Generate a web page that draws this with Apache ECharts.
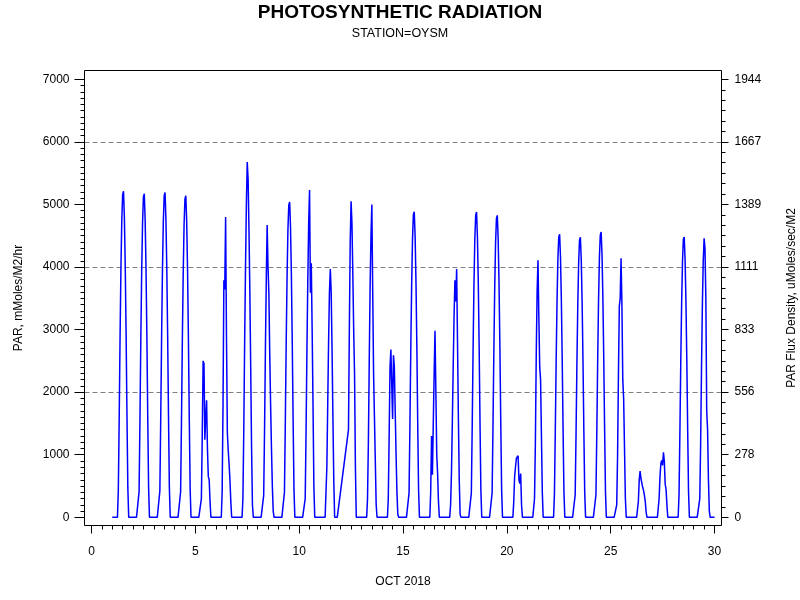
<!DOCTYPE html>
<html>
<head>
<meta charset="utf-8">
<script src="https://cdn.jsdelivr.net/npm/echarts@6/dist/echarts.min.js"></script>
<style>html,body{margin:0;padding:0;background:#fff}#chart{width:800px;height:600px}</style>
</head>
<body>
<div id="chart"></div>
<script>
// Hourly PAR values (mMoles/M2/hr), hours 0..23, October 2018, station OYSM
const oct01 = [0,0,0,0,0,0,0,420,1560,2870,3960,4740,5160,5210,4790,4010,2920,1620,470,0,0,0,0,0];
const oct02 = [0,0,0,0,0,0,0,410,1550,2840,3930,4700,5120,5170,4760,3980,2900,1600,470,0,0,0,0,0];
const oct03 = [0,0,0,0,0,0,0,420,1560,2850,3940,4720,5140,5190,4770,4000,2910,1610,470,0,0,0,0,0];
const oct04 = [0,0,0,0,0,0,0,410,1540,2830,3910,4680,5090,5140,4730,3960,2880,1590,460,0,0,0,0,0];
const oct05 = [0,0,0,0,0,0,0,300,1300,2500,2460,1240,1600,1870,1100,650,600,250,0,0,0,0,0,0];
const oct06 = [0,0,0,0,0,0,0,400,1800,3790,3640,4800,2900,1350,1080,850,600,250,0,0,0,0,0,0];
const oct07 = [0,0,0,0,0,0,0,300,1400,2800,4000,5000,5680,5400,4600,3600,2400,1100,200,0,0,0,0,0];
const oct08 = [0,0,0,0,0,0,0,350,1400,2700,3800,4670,4000,3580,2600,1800,1100,500,100,0,0,0,0,0];
const oct09 = [0,0,0,0,0,0,0,400,1510,2770,3830,4590,4990,5040,4640,3880,2820,1560,450,0,0,0,0,0];
const oct10 = [0,0,0,0,0,0,0,300,1400,2700,3800,4700,5230,3590,4060,3000,1800,500,0,0,0,0,0,0];
const oct11 = [0,0,0,0,0,0,0,0,800,1800,2800,3600,3970,3600,2700,1600,600,0,0,0,0,0,0,null];
const oct12 = [null,null,null,null,null,null,null,null,null,1400,3000,4400,5050,4700,3900,3000,2300,800,0,0,0,0,0,0];
const oct13 = [0,0,0,0,0,0,0,300,1200,2500,3700,4500,5000,3600,2300,1600,900,200,0,0,0,0,0,0];
const oct14 = [0,0,0,0,0,0,0,300,1300,2400,2680,2660,1570,2590,2400,1700,1000,400,50,0,0,0,0,0];
const oct15 = [0,0,0,0,0,0,0,390,1470,2690,3710,4450,4840,4885,4490,3760,2740,1510,440,0,0,0,0,0];
const oct16 = [0,0,0,0,0,0,0,0,400,1300,680,1500,2300,2980,2000,1000,700,250,0,0,0,0,0,0];
const oct17 = [0,0,0,0,0,0,0,200,700,1500,2400,3200,3790,3450,3970,2800,1600,600,50,0,0,0,0,0];
const oct18 = [0,0,0,0,0,0,0,390,1460,2680,3710,4440,4830,4880,4490,3760,2730,1510,440,0,0,0,0,0];
const oct19 = [0,0,0,0,0,0,0,390,1450,2650,3670,4390,4780,4826,4440,3720,2700,1500,430,0,0,0,0,0];
const oct20 = [0,0,0,0,0,0,0,0,250,650,800,940,970,985,600,540,700,200,0,0,0,0,0,0];
const oct21 = [0,0,0,0,0,0,0,0,300,1200,2600,3600,4110,3200,2400,2200,1300,400,0,0,0,0,0,0];
const oct22 = [0,0,0,0,0,0,0,360,1360,2490,3440,4120,4480,4523,4160,3480,2530,1400,410,0,0,0,0,0];
const oct23 = [0,0,0,0,0,0,0,360,1340,2460,3400,4070,4430,4475,4120,3450,2510,1390,400,0,0,0,0,0];
const oct24 = [0,0,0,0,0,0,0,360,1370,2510,3470,4150,4510,4560,4200,3510,2550,1410,410,0,0,0,0,0];
const oct25 = [0,0,0,0,0,0,0,200,1000,2300,3370,3500,4140,3400,2200,1900,1100,300,0,0,0,0,0,0];
const oct26 = [0,0,0,0,0,0,0,0,250,600,740,620,600,480,430,350,250,80,0,0,0,0,0,0];
const oct27 = [0,0,0,0,0,0,0,0,300,650,860,910,830,1040,900,530,450,200,0,0,0,0,0,0];
const oct28 = [0,0,0,0,0,0,0,360,1340,2460,3400,4080,4440,4480,4120,3450,2510,1390,400,0,0,0,0,0];
const oct29 = [0,0,0,0,0,0,0,300,1200,2400,3400,4100,4459,4300,3500,1700,1400,600,100,0,0,0,0,0];
const oct30 = [0];

const days = [oct01,oct02,oct03,oct04,oct05,oct06,oct07,oct08,oct09,oct10,oct11,oct12,oct13,oct14,oct15,
              oct16,oct17,oct18,oct19,oct20,oct21,oct22,oct23,oct24,oct25,oct26,oct27,oct28,oct29,oct30];
const firstDay = 1;

// Axis tick values
const xMajorTicks = [0, 5, 10, 15, 20, 25, 30];
const xMinorStep = 0.5;
const yMajorTicks = [0, 1000, 2000, 3000, 4000, 5000, 6000, 7000];
const yLeftMinorStep = 100;
const yRightMinorDiv = 6;
const gridValues = [2000, 4000, 6000];
const fluxFactor = 3.6; // mMoles/M2/hr -> uMoles/sec/M2

// Axis ranges (the frame is padded a little beyond the first/last tick, as in the original)
const xRange = [-0.337, 30.337];
const yRange = [-131, 7141];

const points = [];
days.forEach((vals, i) => {
  vals.forEach((v, h) => {
    if (v !== null) points.push([firstDay + i + h / 24, v]);
  });
});

function between(ticks, step) {
  const out = [];
  for (let i = 0; i < ticks.length - 1; i++) {
    for (let v = ticks[i] + step; v < ticks[i + 1] - 1e-9; v += step) out.push(v);
  }
  return out;
}
const xMinorTicks = between(xMajorTicks, xMinorStep);
const yLeftMinorTicks = between(yMajorTicks, yLeftMinorStep);
const yRightMinorTicks = between(yMajorTicks, 1000 / yRightMinorDiv);

const FONT = "'Liberation Sans', Arial, Helvetica, sans-serif";
const chart = echarts.init(document.getElementById('chart'), null, { renderer: 'canvas' });

const frame = { left: 84.5, top: 70.5, right: 721.5, bottom: 525.5 };
const blk = { color: '#000', width: 1 };

function tickOnlyAxis(base, values, len) {
  return Object.assign({
    type: 'value', show: true,
    axisLine: { show: false, onZero: false },
    axisTick: { show: true, length: len, customValues: values, lineStyle: blk },
    axisLabel: { show: false },
    splitLine: { show: false },
    minorTick: { show: false }
  }, base);
}

chart.setOption({
  animation: false,
  backgroundColor: '#fff',
  title: [
    { text: 'PHOTOSYNTHETIC RADIATION', left: 'center', top: -2,
      textStyle: { fontFamily: FONT, fontSize: 19, fontWeight: 'bold', color: '#000' } },
    { text: 'STATION=OYSM', left: 'center', top: 22,
      textStyle: { fontFamily: FONT, fontSize: 12.5, fontWeight: 'normal', color: '#000' } }
  ],
  grid: { left: frame.left, right: 800 - frame.right, top: frame.top, bottom: 600 - frame.bottom,
          containLabel: false, outerBoundsMode: 'none' },
  xAxis: [
    {
      type: 'value', position: 'bottom', min: xRange[0], max: xRange[1],
      name: 'OCT 2018', nameLocation: 'middle', nameGap: 50,
      nameTextStyle: { fontFamily: FONT, fontSize: 12, color: '#000' },
      axisLine: { show: false, onZero: false },
      axisTick: { show: true, length: 8, customValues: xMajorTicks, lineStyle: blk },
      axisLabel: { margin: 20, fontFamily: FONT, fontSize: 12, color: '#000', customValues: xMajorTicks,
        formatter: v => String(v) },
      splitLine: { show: false }
    },
    tickOnlyAxis({ position: 'bottom', min: xRange[0], max: xRange[1] }, xMinorTicks, 4)
  ],
  yAxis: [
    {
      type: 'value', position: 'left', min: yRange[0], max: yRange[1],
      name: 'PAR, mMoles/M2/hr', nameLocation: 'middle', nameGap: 60,
      nameTextStyle: { fontFamily: FONT, fontSize: 12, color: '#000' },
      axisLine: { show: false, onZero: false },
      axisTick: { show: true, length: 10, customValues: yMajorTicks, lineStyle: blk },
      axisLabel: { margin: 15, fontFamily: FONT, fontSize: 12, color: '#000', customValues: yMajorTicks,
        formatter: v => String(v) },
      splitLine: { show: false }
    },
    {
      type: 'value', position: 'right', min: yRange[0], max: yRange[1],
      name: 'PAR Flux Density, uMoles/sec/M2', nameLocation: 'middle', nameGap: 64,
      nameTextStyle: { fontFamily: FONT, fontSize: 12, color: '#000' },
      axisLine: { show: false, onZero: false },
      axisTick: { show: true, length: 7, customValues: yMajorTicks, lineStyle: blk },
      axisLabel: { margin: 13, fontFamily: FONT, fontSize: 12, color: '#000', customValues: yMajorTicks,
        formatter: v => String(Math.round(v / fluxFactor)) },
      splitLine: { show: false }
    },
    tickOnlyAxis({ position: 'left', min: yRange[0], max: yRange[1] }, yLeftMinorTicks, 4),
    tickOnlyAxis({ position: 'right', min: yRange[0], max: yRange[1] }, yRightMinorTicks, 4)
  ],
  series: [{
    type: 'line', data: points, xAxisIndex: 0, yAxisIndex: 0,
    showSymbol: false, symbol: 'none', smooth: false,
    lineStyle: { color: '#0000ff', width: 1.5 },
    z: 5
  }]
});

const gridGraphics = gridValues.map(v => {
  const y = Math.round(chart.convertToPixel({ yAxisIndex: 0 }, v)) + 0.5;
  return { type: 'line', z: 1, silent: true,
    shape: { x1: frame.left, y1: y, x2: frame.right, y2: y },
    style: { stroke: '#808080', lineWidth: 1, lineDash: [5, 3] } };
});
gridGraphics.push({
  type: 'rect', z: 10, silent: true,
  shape: { x: frame.left, y: frame.top, width: frame.right - frame.left, height: frame.bottom - frame.top },
  style: { fill: null, stroke: '#000', lineWidth: 1 }
});
chart.setOption({ graphic: gridGraphics });
</script>
</body>
</html>
